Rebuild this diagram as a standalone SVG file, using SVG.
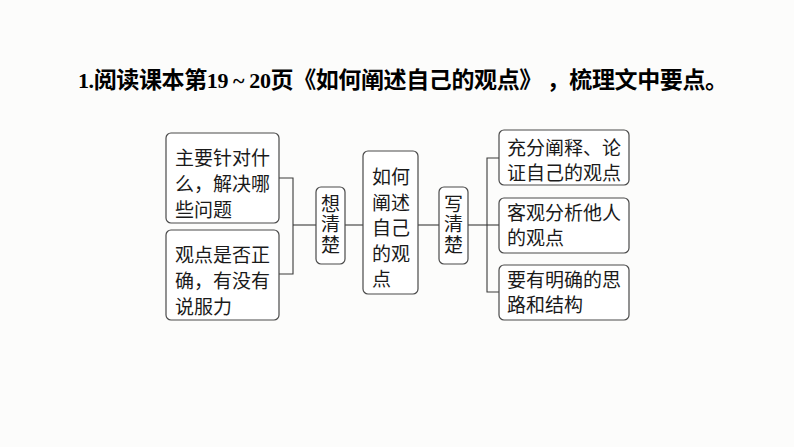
<svg xmlns="http://www.w3.org/2000/svg" width="794" height="447" viewBox="0 0 794 447">
<style>
.bg{fill:#fcfcfb}
.box{fill:#ffffff;stroke:#4a4a4a;stroke-width:1.2}
.t{font-family:"Noto Sans CJK SC","Noto Sans",sans-serif;font-size:19px;fill:#1a1a1a}
.v{writing-mode:vertical-rl;letter-spacing:1.5px}
.ln{fill:none;stroke:#3a3a3a;stroke-width:1.1}
.title{font-family:"Noto Sans CJK SC","Noto Sans",sans-serif;font-size:23px;font-weight:bold;fill:#000}
.num{font-family:"Liberation Serif",serif;font-size:22px;font-weight:bold}
</style>
<rect class="bg" x="0" y="0" width="794" height="447"/>
<text id="title" class="title" x="78" y="88" textLength="650" lengthAdjust="spacing"><tspan class="num">1.</tspan>阅读课本第<tspan class="num">19 ~ 20</tspan>页《如何阐述自己的观点》 ，梳理文中要点。</text>
<g id="connectors">
<path class="ln" d="M279,178 H293 V274 H279"/>
<path class="ln" d="M293,225 H316"/>
<path class="ln" d="M345,225 H363"/>
<path class="ln" d="M418,225 H439"/>
<path class="ln" d="M468,225 H487"/>
<path class="ln" d="M499,158 H487 V292 H499"/>
<path class="ln" d="M487,225 H499"/>
</g>
<g id="nodeA">
<rect class="box" x="166" y="133" width="113" height="90" rx="5"/>
<text class="t" x="175" y="165">主要针对什</text>
<text class="t" x="175" y="191">么，解决哪</text>
<text class="t" x="175" y="217">些问题</text>
</g>
<g id="nodeB">
<rect class="box" x="166" y="230" width="113" height="90" rx="5"/>
<text class="t" x="175" y="261.5">观点是否正</text>
<text class="t" x="175" y="288">确，有没有</text>
<text class="t" x="175" y="313.5">说服力</text>
</g>
<g id="nodeThink">
<rect class="box" x="316" y="187" width="29" height="77" rx="5"/>
<text class="t v" x="330.5" y="194">想清楚</text>
</g>
<g id="nodeCenter">
<rect class="box" x="363" y="151" width="55" height="143" rx="5"/>
<text class="t" x="372" y="184">如何</text>
<text class="t" x="372" y="209.5">阐述</text>
<text class="t" x="372" y="235">自己</text>
<text class="t" x="372" y="260.5">的观</text>
<text class="t" x="372" y="286">点</text>
</g>
<g id="nodeWrite">
<rect class="box" x="439" y="187" width="29" height="77" rx="5"/>
<text class="t v" x="453.5" y="194">写清楚</text>
</g>
<g id="nodeR1">
<rect class="box" x="499" y="130" width="130" height="55" rx="5"/>
<text class="t" x="507" y="154.5">充分阐释、论</text>
<text class="t" x="507" y="179.5">证自己的观点</text>
</g>
<g id="nodeR2">
<rect class="box" x="499" y="198" width="130" height="55" rx="5"/>
<text class="t" x="507" y="219.5">客观分析他人</text>
<text class="t" x="507" y="244.5">的观点</text>
</g>
<g id="nodeR3">
<rect class="box" x="499" y="265" width="130" height="55" rx="5"/>
<text class="t" x="507" y="287">要有明确的思</text>
<text class="t" x="507" y="312">路和结构</text>
</g>
</svg>
